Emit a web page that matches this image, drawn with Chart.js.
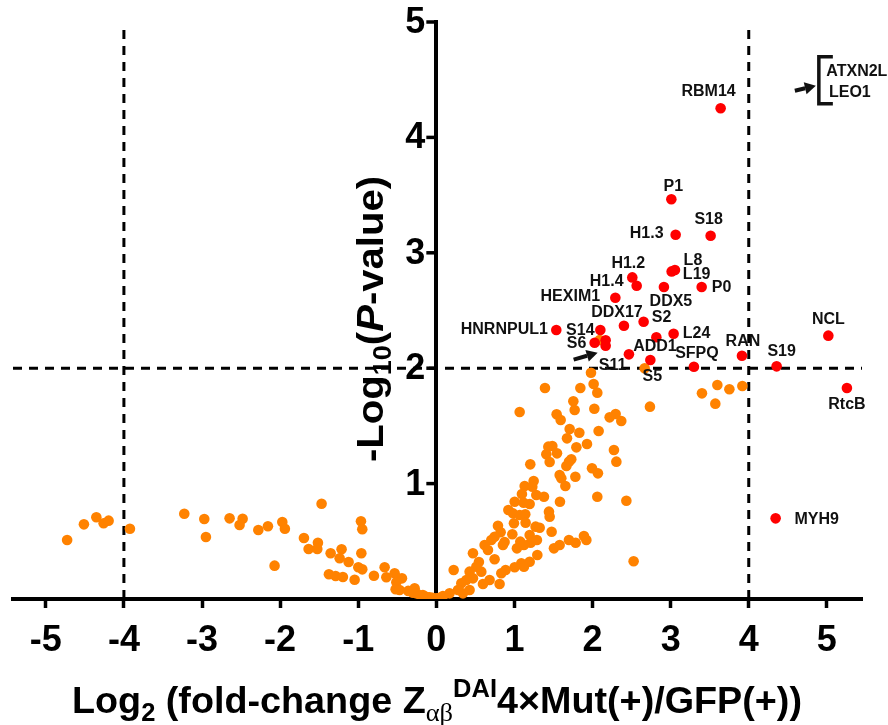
<!DOCTYPE html>
<html><head><meta charset="utf-8">
<script src="https://cdn.jsdelivr.net/npm/chart.js@4.4.1/dist/chart.umd.min.js"></script>
<style>html,body{margin:0;padding:0;background:#fff}canvas{display:block}</style>
</head><body>
<canvas id="c" width="888" height="725"></canvas>
<script>
// ---- data ----
const xTicks = [-5,-4,-3,-2,-1,0,1,2,3,4,5];
const yTicks = [0,1,2,3,4,5];
const cutoffX = [-4, 4];
const cutoffY = 2;

const bgX = [-4.727,-4.512,-4.353,-4.260,-4.196,-3.923,-3.227,-2.971,-2.950,-2.647,-2.480,-2.519,-2.279,-2.156,-1.972,-1.939,-2.071,-1.469,-1.695,-1.635,-1.516,-1.524,-1.353,-1.213,-1.238,-1.123,-1.375,-1.289,-1.196,-1.046,-0.965,-0.948,-0.960,-0.999,-0.948,-0.799,-0.662,-0.640,-0.534,-0.440,-0.512,-0.521,-0.470,-0.278,-0.256,-0.172,-0.086,0.000,-0.300,-0.36,-0.20,-0.13,-0.05,0.04,
1.980,2.014,2.061,1.391,1.844,1.754,1.771,2.023,1.067,1.540,1.592,2.219,2.296,2.368,2.735,1.707,1.831,2.078,1.673,1.929,1.793,1.434,1.485,1.408,1.545,1.451,2.274,2.305,1.203,1.728,1.698,1.665,1.993,2.069,1.579,1.600,1.780,1.652,1.246,1.131,1.229,1.096,1.280,1.378,2.061,2.433,1.583,1.003,1.118,1.195,0.922,0.981,1.067,1.139,1.442,1.451,0.994,1.143,0.789,1.271,1.323,1.476,0.973,0.823,0.746,0.704,1.195,1.075,1.207,1.032,1.122,1.288,0.874,0.853,0.618,0.661,0.746,0.469,1.506,1.579,1.698,1.784,1.890,1.921,1.293,1.195,1.088,1.122,1.003,0.887,0.832,0.810,0.545,0.512,0.426,0.576,0.682,0.597,0.469,0.384,0.320,0.222,0.277,0.170,0.085,0.341,0.426,2.526,
3.401,3.598,3.752,3.918,3.572,2.667,2.092];
const bgY = [0.511,0.647,0.708,0.656,0.679,0.609,0.739,0.693,0.537,0.699,0.696,0.641,0.598,0.630,0.667,0.609,0.289,0.826,0.529,0.433,0.488,0.433,0.396,0.431,0.353,0.321,0.214,0.199,0.191,0.167,0.673,0.604,0.396,0.275,0.257,0.202,0.275,0.188,0.223,0.179,0.145,0.084,0.078,0.093,0.049,0.035,0.015,0.006,0.055,0.07,0.03,0.02,0.01,0.01,
1.961,1.863,1.788,1.828,1.828,1.713,1.638,1.649,1.620,1.600,1.551,1.574,1.603,1.542,1.667,1.473,1.441,1.456,1.392,1.343,1.314,1.320,1.326,1.254,1.262,1.187,1.291,1.190,1.167,1.210,1.190,1.153,1.133,1.089,1.075,1.046,1.060,0.979,1.023,0.979,0.973,0.910,0.901,0.886,0.886,0.852,0.843,0.843,0.834,0.823,0.771,0.742,0.728,0.734,0.757,0.713,0.656,0.661,0.635,0.627,0.618,0.583,0.561,0.578,0.540,0.511,0.555,0.497,0.488,0.439,0.468,0.511,0.494,0.468,0.468,0.425,0.344,0.396,0.439,0.468,0.511,0.488,0.546,0.511,0.381,0.323,0.309,0.280,0.275,0.251,0.223,0.130,0.321,0.280,0.237,0.237,0.165,0.130,0.179,0.165,0.136,0.251,0.078,0.049,0.026,0.049,0.078,0.327,
1.782,1.854,1.817,1.846,1.693,1.999,2.244];

const hitNames = ['RBM14','P1','H1.3','S18','L8','L19','P0','DDX5','H1.2','H1.4','HEXIM1','DDX17','S2','L24','S14','S6','','S11','ADD1','','S5','SFPQ','RAN','S19','NCL','RtcB','HNRNPUL1','MYH9'];
const hitX = [3.640,3.009,3.064,3.512,3.055,3.013,3.397,2.914,2.509,2.565,2.292,2.402,2.654,3.038,2.100,2.027,2.168,2.168,2.466,2.817,2.740,3.298,3.913,4.357,5.019,5.257,1.536,4.344];
const hitY = [4.252,3.464,3.157,3.148,2.851,2.839,2.704,2.704,2.787,2.715,2.611,2.368,2.403,2.299,2.331,2.221,2.242,2.195,2.120,2.268,2.071,2.013,2.108,2.016,2.282,1.828,2.331,0.699];
const offChartNames = ['ATXN2L','LEO1'];

// ---- styling (label offsets in px relative to their point) ----
const labelOffsets = {
  'RBM14':[-12,-17],'P1':[2,-13],'H1.3':[-29,-1],'S18':[-2,-16],'L8':[18,-9],'L19':[25,3],
  'P0':[20,1],'DDX5':[7,15],'H1.2':[-4,-14],'H1.4':[-30,-4],'HEXIM1':[-45,-1],'DDX17':[-7,-13],
  'S2':[18,-4],'L24':[23,0],'S14':[-20,1],'S6':[-18,1],'S11':[7,20],'ADD1':[26,-8],'S5':[2,17],
  'SFPQ':[3,-13],'RAN':[1,-14],'S19':[5,-15],'NCL':[0,-16],'RtcB':[0,17],'HNRNPUL1':[-52,0],'MYH9':[41,1]
};
const FONT = '"Liberation Sans", Arial, Helvetica, sans-serif';

function arrow(ctx, x1, y1, x2, y2, w, head) {
  const a = Math.atan2(y2-y1, x2-x1);
  const bx = x2 - head*Math.cos(a), by = y2 - head*Math.sin(a);
  ctx.lineWidth = w; ctx.lineCap='butt';
  ctx.beginPath(); ctx.moveTo(x1,y1); ctx.lineTo(bx,by); ctx.stroke();
  ctx.beginPath();
  ctx.moveTo(x2,y2);
  ctx.lineTo(bx + head*0.55*Math.sin(a), by - head*0.55*Math.cos(a));
  ctx.lineTo(bx - head*0.55*Math.sin(a), by + head*0.55*Math.cos(a));
  ctx.closePath(); ctx.fill();
}

function runFont(r) { return (r.it ? 'italic ' : '') + (r.w0 ? 'normal ' : 'bold ') + r.s + 'px ' + (r.f || FONT); }
function drawRuns(ctx, runs, x, y, targetW) {
  let W = 0;
  runs.forEach(r => { ctx.font = runFont(r); r.w = ctx.measureText(r.t).width; W += r.w; });
  const sx = targetW / W;
  ctx.save();
  ctx.translate(x, y);
  ctx.scale(sx, 1);
  let cx = 0;
  ctx.textAlign = 'left'; ctx.textBaseline = 'alphabetic';
  runs.forEach(r => { ctx.font = runFont(r); ctx.fillText(r.t, cx, r.dy||0); cx += r.w; });
  ctx.restore();
}

const annotPlugin = {
  id: 'annot',
  afterDatasetsDraw(chart) {
    const ctx = chart.ctx, xs = chart.scales.x, ys = chart.scales.y;
    ctx.save();
    ctx.fillStyle = '#111'; ctx.strokeStyle = '#111';
    ctx.font = 'bold 16px ' + FONT;
    ctx.textAlign = 'center'; ctx.textBaseline = 'middle';
    hitNames.forEach((n, i) => {
      if (!n) return;
      const o = labelOffsets[n];
      ctx.fillText(n, xs.getPixelForValue(hitX[i]) + o[0], ys.getPixelForValue(hitY[i]) + o[1]);
    });
    // arrow to S11
    const si = hitNames.indexOf('S11');
    const sxp = xs.getPixelForValue(hitX[si]), syp = ys.getPixelForValue(hitY[si]);
    arrow(ctx, sxp-32, syp+14, sxp-8, syp+7, 4, 11);
    // off-chart ATXN2L / LEO1 annotation
    const ax = xs.getPixelForValue(5), ay = ys.getPixelForValue(4.5);
    ctx.fillText(offChartNames[0], ax + 30, ay - 8);
    ctx.fillText(offChartNames[1], ax + 23, ay + 12.5);
    ctx.lineWidth = 3.5;
    ctx.beginPath();
    ctx.moveTo(ax + 6, ay - 23); ctx.lineTo(ax - 8, ay - 23); ctx.lineTo(ax - 8, ay + 24); ctx.lineTo(ax + 6, ay + 24);
    ctx.stroke();
    arrow(ctx, ax - 32, ay + 11, ax - 11, ay + 6, 4, 11);
    ctx.restore();
  },
  afterDraw(chart) {
    const ctx = chart.ctx, xs = chart.scales.x, ys = chart.scales.y;
    ctx.save();
    ctx.fillStyle = '#000'; ctx.strokeStyle = '#000';
    // y-axis ticks and labels on the left of the centred axis
    const axX = xs.getPixelForValue(0);
    ctx.lineWidth = 3.5;
    ctx.font = 'bold 36px ' + FONT;
    ctx.textAlign = 'right'; ctx.textBaseline = 'middle';
    ys.ticks.forEach(t => {
      const py = ys.getPixelForValue(t.value);
      if (t.value === 0) return;
      ctx.beginPath(); ctx.moveTo(axX - 2, py); ctx.lineTo(axX - 10, py); ctx.stroke();
      ctx.fillText(String(t.value), axX - 11, py + 1);
    });
    // x title
    drawRuns(ctx, [
      {t:'Log', s:37},{t:'2', s:25, dy:8},{t:' (fold-change Z', s:37},
      {t:'\u03B1\u03B2', s:26, dy:8, w0:true, f:'"Liberation Serif", "DejaVu Serif", serif'},
      {t:'DAI', s:25, dy:-16},{t:'4\u00D7Mut(+)/GFP(+))', s:37}
    ], 72, 712.5, 730);
    // y title (rotated)
    ctx.save();
    ctx.translate(383, 462);
    ctx.rotate(-Math.PI/2);
    drawRuns(ctx, [
      {t:'-Log', s:37},{t:'10', s:25, dy:8},{t:'(', s:37},{t:'P', s:37, it:true},{t:'-value)', s:37}
    ], 0, 0, 286);
    ctx.restore();
    ctx.restore();
  }
};

const bgData = bgX.map((x, i) => ({x, y: bgY[i]}));
const hitData = hitX.map((x, i) => ({x, y: hitY[i]}));
const X_MIN = -5.42, X_MAX = 5.45;

new Chart(document.getElementById('c'), {
  type: 'scatter',
  data: {
    datasets: [
      {data: hitData, backgroundColor: 'rgb(255,0,0)', borderWidth: 0, pointRadius: 5.3, order: 0},
      {data: bgData, backgroundColor: 'rgb(255,130,0)', borderWidth: 0, pointRadius: 5.3, order: 1},
      {type: 'line', data: [{x: cutoffX[0], y: 0}, {x: cutoffX[0], y: 4.95}], borderColor: '#000', borderWidth: 3, borderDash: [9, 7], pointRadius: 0, order: 2},
      {type: 'line', data: [{x: cutoffX[1], y: 0}, {x: cutoffX[1], y: 4.95}], borderColor: '#000', borderWidth: 3, borderDash: [9, 7], pointRadius: 0, order: 2},
      {type: 'line', data: [{x: X_MIN, y: cutoffY}, {x: X_MAX, y: cutoffY}], borderColor: '#000', borderWidth: 3, borderDash: [9, 7], pointRadius: 0, order: 2}
    ]
  },
  options: {
    responsive: false,
    animation: false,
    layout: {padding: {left: 13, right: 26, top: 22, bottom: 0}},
    plugins: {legend: {display: false}, tooltip: {enabled: false}},
    scales: {
      x: {
        type: 'linear', position: 'bottom', min: X_MIN, max: X_MAX,
        afterFit(s) { s.height = 126; },
        afterBuildTicks(s) { s.ticks = xTicks.map(v => ({value: v})); },
        ticks: {font: {family: FONT, size: 36, weight: 'bold'}, color: '#000', padding: 11, includeBounds: false, maxRotation: 0, autoSkip: false},
        grid: {drawOnChartArea: false, drawTicks: true, tickLength: 9, tickWidth: 3.5, color: '#000'},
        border: {display: true, color: '#000', width: 4}
      },
      y: {
        type: 'linear', position: {x: 0}, min: 0, max: 5,
        afterBuildTicks(s) { s.ticks = yTicks.map(v => ({value: v})); },
        ticks: {display: false},
        grid: {drawOnChartArea: false, drawTicks: false},
        border: {display: true, color: '#000', width: 4}
      }
    }
  },
  plugins: [annotPlugin]
});
</script>
</body></html>
